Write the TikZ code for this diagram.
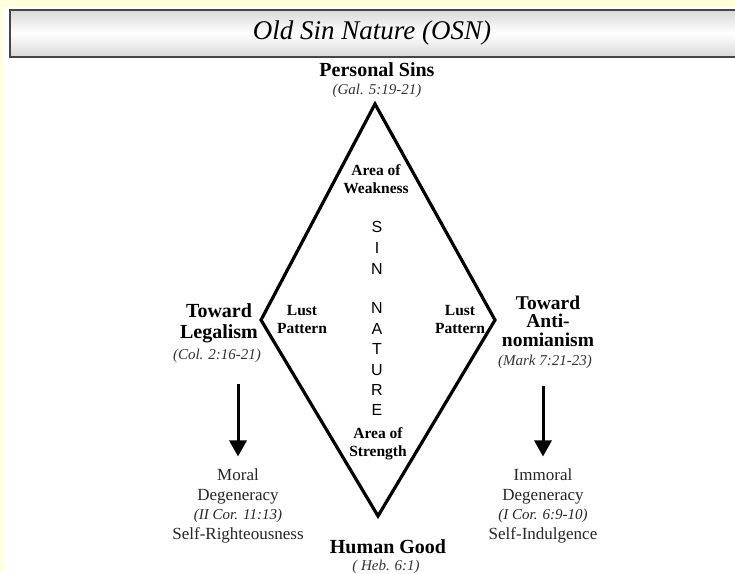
\documentclass[tikz,border=0pt]{standalone}
\usepackage{fontspec}
\setmainfont{Liberation Serif}
\setsansfont{Liberation Sans}
\usetikzlibrary{arrows.meta}
\definecolor{paper}{HTML}{FFFFDC}
\tikzset{
  heading/.style={font=\bfseries\fontsize{20}{21}\selectfont, align=center},
  ref/.style={font=\itshape\fontsize{15}{16}\selectfont, text=black!80},
  small/.style={font=\bfseries\fontsize{15.5}{18}\selectfont, align=center},
  result/.style={font=\fontsize{17}{19.5}\selectfont, align=center, text=black!85},
  letter/.style={font=\sffamily\fontsize{16}{16}\selectfont},
  downarrow/.style={line width=3pt, -{Triangle[width=17pt,length=16pt]}, shorten >=9pt},
}
\begin{document}
\begin{tikzpicture}[x=1pt,y=-1pt]
  \useasboundingbox (0,0) rectangle (735,573);
  \fill[paper] (0,0) rectangle (735,573);
  \fill[white] (3,7) rectangle (735,573);
  % title bar
  \shade[top color=gray!30, bottom color=gray!30, middle color=white] (10,10) rectangle (745,57);
  \draw[gray!55!black, line width=1.5pt] (10,10) rectangle (745,57);
  \node[font=\itshape\fontsize{27}{28}\selectfont] (title) at (372,33) {Old Sin Nature (OSN)};

  % diamond
  \coordinate (top) at (375,104);
  \coordinate (right) at (495,320);
  \coordinate (bottom) at (378,516);
  \coordinate (left) at (261,320);
  \draw[line width=3.2pt, line join=miter] (top) -- (right) -- (bottom) -- (left) -- cycle;

  % top and bottom
  \node[heading] (sins) at (377,70) {Personal Sins};
  \node[ref] (sinsref) at (377,91) {(Gal. 5:19-21)};
  \node[heading] (good) at (388,547) {Human Good};
  \node[ref] (goodref) at (386,567) {( Heb. 6:1)};

  \node[small] (weak) at (376,179) {Area of\\Weakness};
  \node[small] (strong) at (378,444) {Area of\\Strength};
  \node[small] (lustL) at (302,319) {Lust\\Pattern};
  \node[small] (lustR) at (460,319) {Lust\\Pattern};

  \foreach \l/\y in {S/227, I/248, N/269, N/308, A/329, T/349, U/370, R/390, E/410}{
    \node[letter] at (377,\y) {\l};
  }

  % left side
  \node[heading] (legal) at (219,323) {Toward\\Legalism};
  \node[ref] (legalref) at (217,356) {(Col. 2:16-21)};
  \node[result] (moral) at (238,506) {Moral\\Degeneracy\\{\itshape\fontsize{15}{16}\selectfont(II Cor. 11:13)}\\Self-Righteousness};
  \draw[downarrow] (238,384) -- (moral.north);

  % right side
  \node[heading, font=\bfseries\fontsize{19.5}{18.5}\selectfont] (anti) at (548,321) {Toward\\Anti-\\nomianism};
  \node[ref, inner sep=1pt] (antiref) at (545,362) {(Mark 7:21-23)};
  \node[result] (immoral) at (543,506) {Immoral\\Degeneracy\\{\itshape\fontsize{15}{16}\selectfont(I Cor. 6:9-10)}\\Self-Indulgence};
  \draw[downarrow] (543,386) -- (immoral.north);
\end{tikzpicture}
\end{document}
